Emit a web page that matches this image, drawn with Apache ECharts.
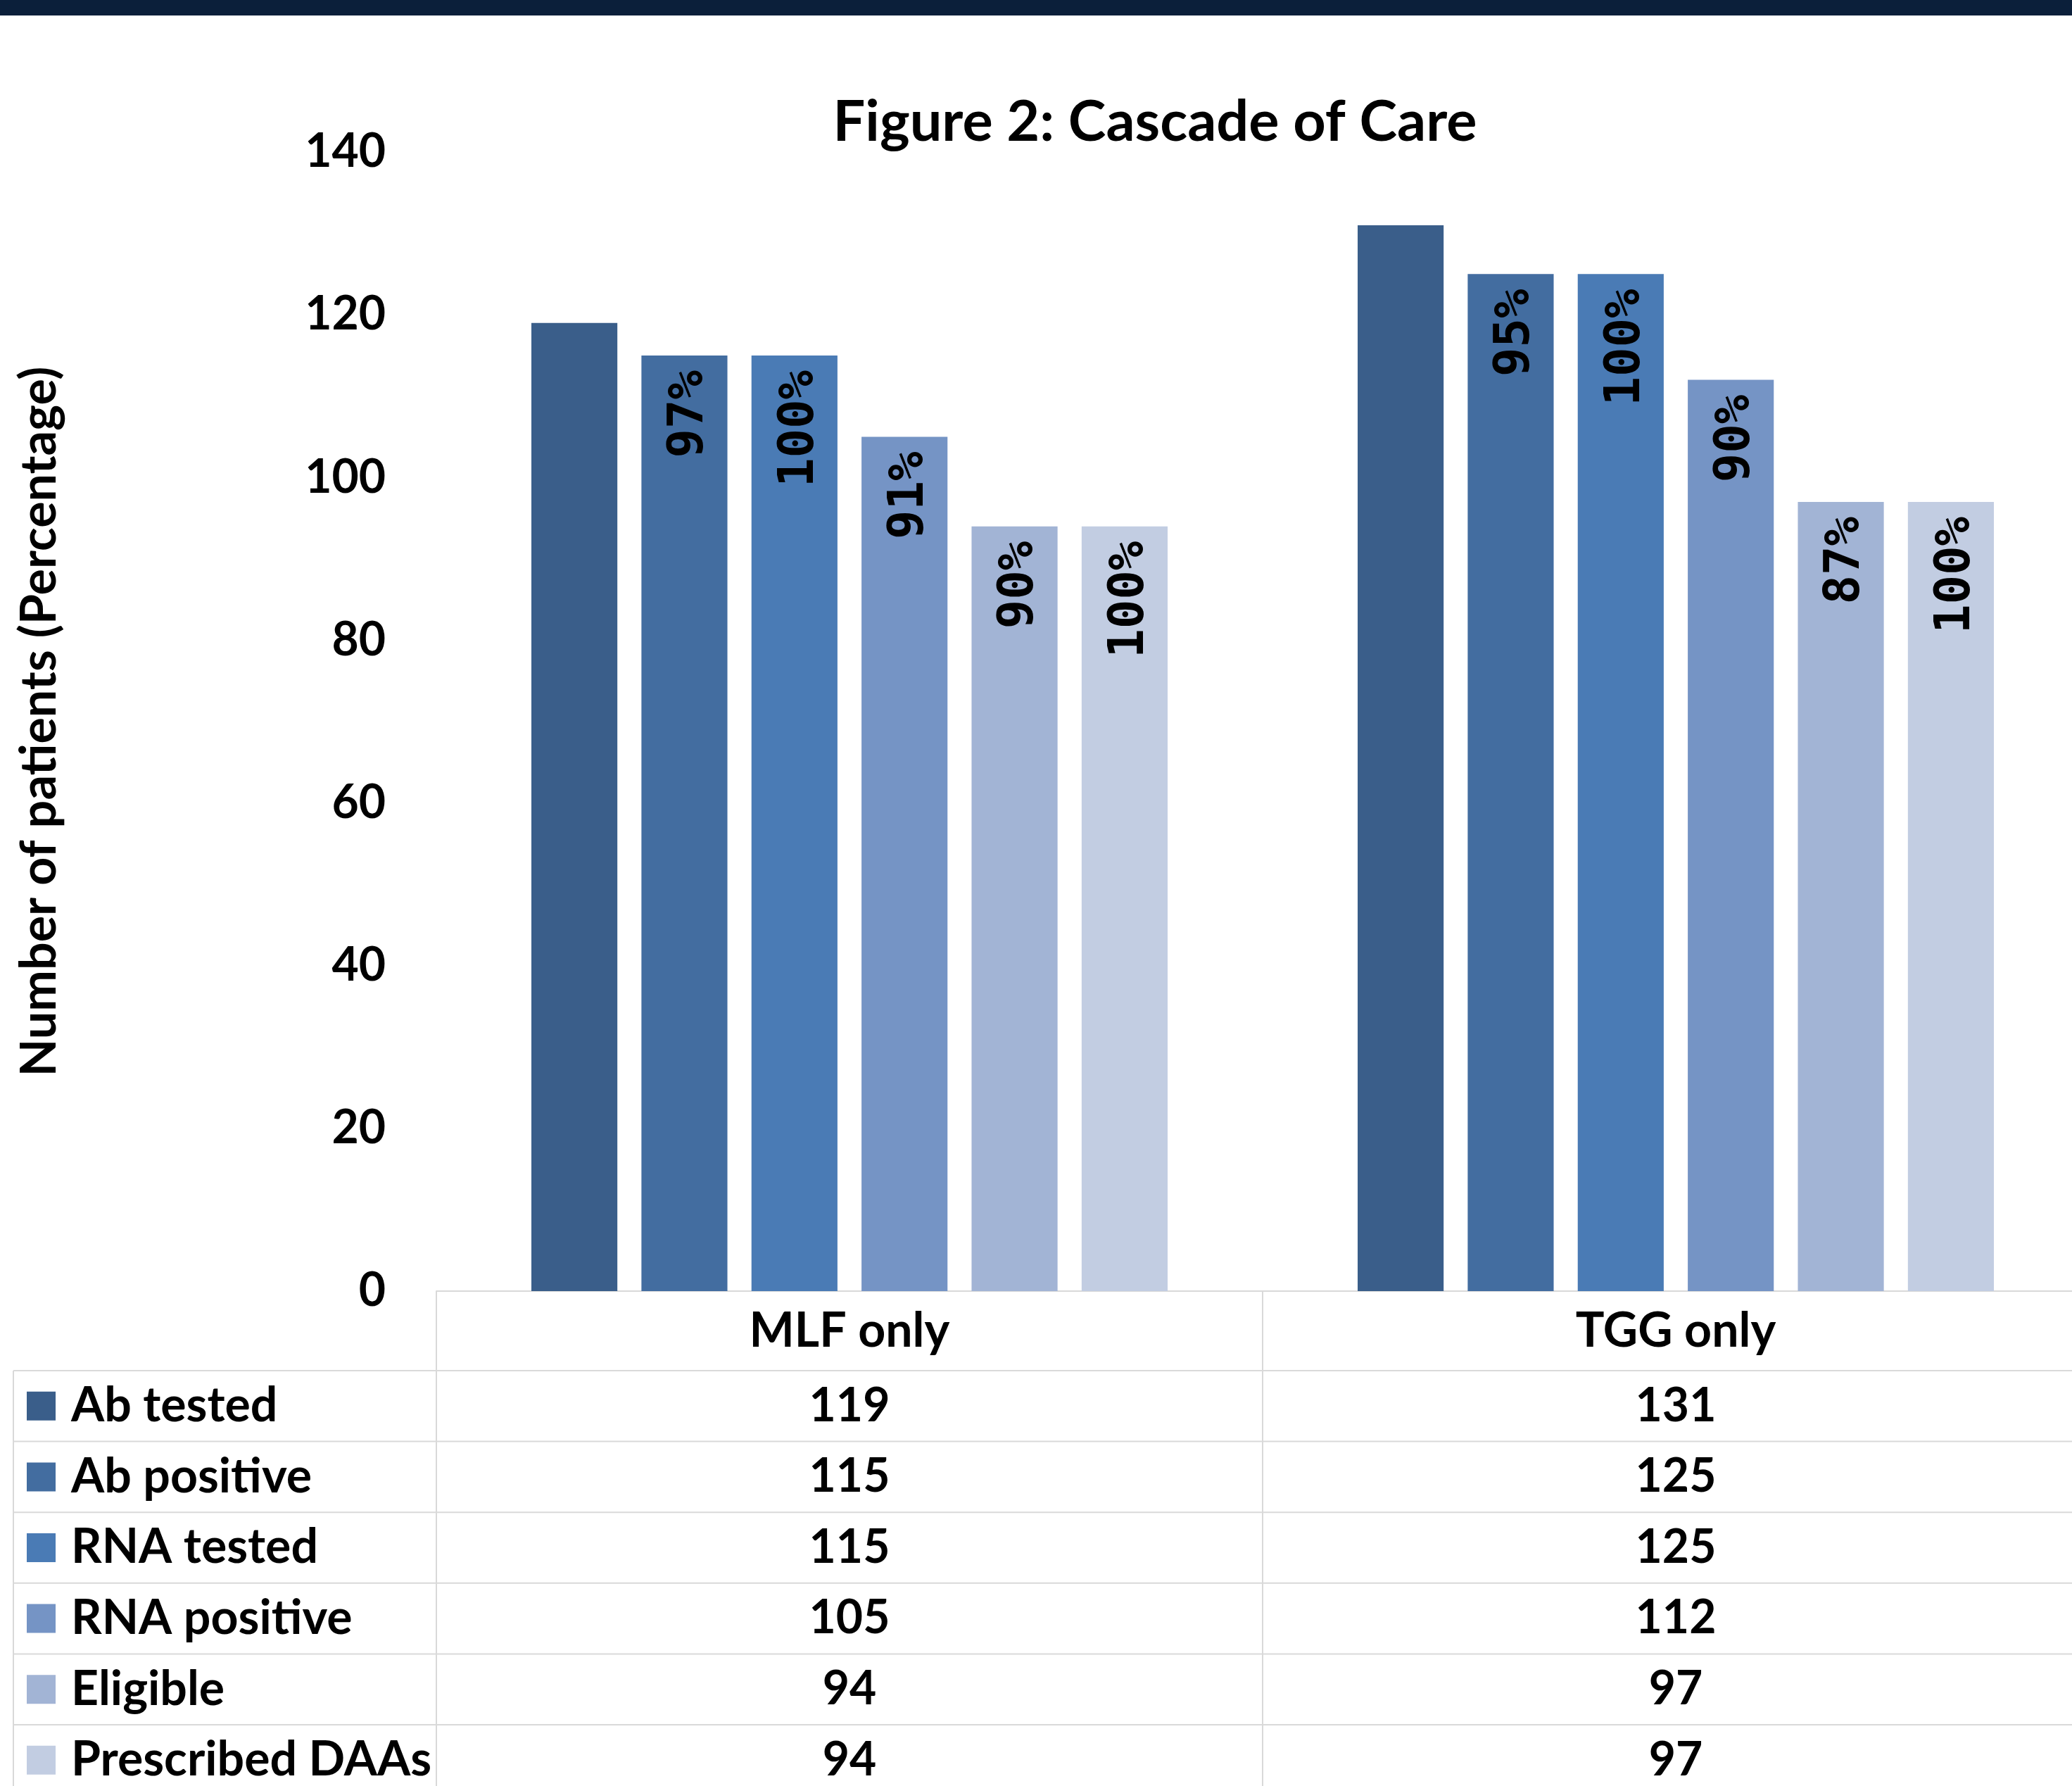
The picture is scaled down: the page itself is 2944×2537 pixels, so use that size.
<!DOCTYPE html>
<html>
<head>
<meta charset="utf-8">
<script src="https://cdn.jsdelivr.net/npm/echarts@6/dist/echarts.min.js"></script>
<style>
html,body{margin:0;padding:0;background:#fff;}
#c{width:2944px;height:2537px;}
</style>
</head>
<body>
<div id="c"></div>
<script>
// ---- data ----
const categories = ['MLF only', 'TGG only'];
const seriesNames = ['Ab tested', 'Ab positive', 'RNA tested', 'RNA positive', 'Eligible', 'Prescribed DAAs'];
const abTested = [119, 131];
const abPositive = [115, 125];
const rnaTested = [115, 125];
const rnaPositive = [105, 112];
const eligible = [94, 97];
const prescribedDAAs = [94, 97];
const pctAbTested = [null, null];
const pctAbPositive = ['97%', '95%'];
const pctRnaTested = ['100%', '100%'];
const pctRnaPositive = ['91%', '90%'];
const pctEligible = ['90%', '87%'];
const pctPrescribed = ['100%', '100%'];
const yMin = 0, yMax = 140, yInterval = 20;

const seriesValues = [abTested, abPositive, rnaTested, rnaPositive, eligible, prescribedDAAs];
const seriesPct = [pctAbTested, pctAbPositive, pctRnaTested, pctRnaPositive, pctEligible, pctPrescribed];
const colors = ['#3a5e8a', '#436da0', '#4a7bb5', '#7594c5', '#a2b4d5', '#c2cde2'];

const FONT = 'Lato';
const chart = echarts.init(document.getElementById('c'), null, {renderer: 'canvas'});

const series = seriesNames.map((name, i) => ({
  name: name,
  type: 'bar',
  data: seriesValues[i],
  barGap: '28%',
  barCategoryGap: '23%',
  itemStyle: {color: colors[i]},
  label: {
    show: seriesPct[i][0] !== null,
    position: 'insideTop',
    distance: 18,
    rotate: 90,
    align: 'right',
    verticalAlign: 'middle',
    offset: [-3, 8],
    fontFamily: 'DejaVu Sans Mono',
    fontWeight: 'bold',
    fontSize: 69,
    color: '#000',
    formatter: p => seriesPct[i][p.dataIndex] || ''
  }
}));

const gridLeft = 620, gridWidth = 2348;
const gridTop = 216, gridBottomY = 1834;
const rowTop = 1947, rowH = 100.6, nRows = 6;

chart.setOption({
  animation: false,
  color: colors,
  title: {
    text: 'Figure 2: Cascade of Care',
    left: 1641,
    top: 133,
    padding: 0,
    textAlign: 'center',
    textStyle: {fontFamily: FONT, fontWeight: 'bold', fontSize: 81, color: '#000'}
  },
  grid: {left: gridLeft, width: gridWidth, top: gridTop, bottom: 2537 - gridBottomY, containLabel: false, outerBoundsMode: 'none'},
  xAxis: {
    type: 'category',
    data: categories,
    axisLine: {show: true, lineStyle: {color: '#d9d9d9', width: 2}},
    axisTick: {show: false},
    axisLabel: {
      margin: 57,
      verticalAlign: 'middle',
      fontFamily: FONT, fontWeight: 'bold', fontSize: 68, color: '#000'
    }
  },
  yAxis: {
    type: 'value',
    min: yMin, max: yMax, interval: yInterval,
    axisLine: {show: false},
    axisTick: {show: false},
    splitLine: {show: false},
    axisLabel: {margin: 72, fontFamily: FONT, fontWeight: 'bold', fontSize: 66, color: '#000'},
    name: 'Number of patients (Percentage)',
    nameLocation: 'middle',
    nameGap: 529,
    nameTextStyle: {fontFamily: FONT, fontWeight: 'bold', fontSize: 70, color: '#000'}
  },
  legend: {
    orient: 'vertical',
    left: 38,
    top: rowTop,
    height: 800,
    itemWidth: 41,
    itemHeight: 41,
    itemGap: 0,
    icon: 'rect',
    selectedMode: false,
    padding: 0,
    data: seriesNames,
    textStyle: {fontFamily: FONT, fontWeight: 'bold', fontSize: 68, color: '#000', lineHeight: rowH, padding: [0, 0, 0, 17]}
  },
  series: series
});

// ---- data table (values positioned by the category axis) ----
const graphics = [];
graphics.push({type: 'rect', shape: {x: 0, y: 0, width: 2944, height: 22}, style: {fill: '#0b1f3a'}, z: 10});
const lineStyle = {stroke: '#d9d9d9', lineWidth: 2};
for (let r = 0; r < nRows; r++) {
  const y = rowTop + r * rowH;
  graphics.push({type: 'line', shape: {x1: 19, y1: y, x2: 2944, y2: y}, style: lineStyle});
}
const catX = categories.map(c => chart.convertToPixel({xAxisIndex: 0}, c));
const bandHalf = (catX[1] - catX[0]) / 2;
[catX[0] - bandHalf, catX[0] + bandHalf].forEach(x => {
  graphics.push({type: 'line', shape: {x1: x, y1: gridBottomY, x2: x, y2: 2537}, style: lineStyle});
});
graphics.push({type: 'line', shape: {x1: 19, y1: rowTop, x2: 19, y2: 2537}, style: lineStyle});
seriesValues.forEach((vals, r) => {
  vals.forEach((v, ci) => {
    graphics.push({
      type: 'text',
      x: catX[ci],
      y: rowTop + r * rowH + rowH / 2,
      style: {text: String(v), fontFamily: FONT, fontWeight: 'bold', fontSize: 66, fill: '#000', align: 'center', verticalAlign: 'middle'}
    });
  });
});
chart.setOption({graphic: graphics});
</script>
</body>
</html>
